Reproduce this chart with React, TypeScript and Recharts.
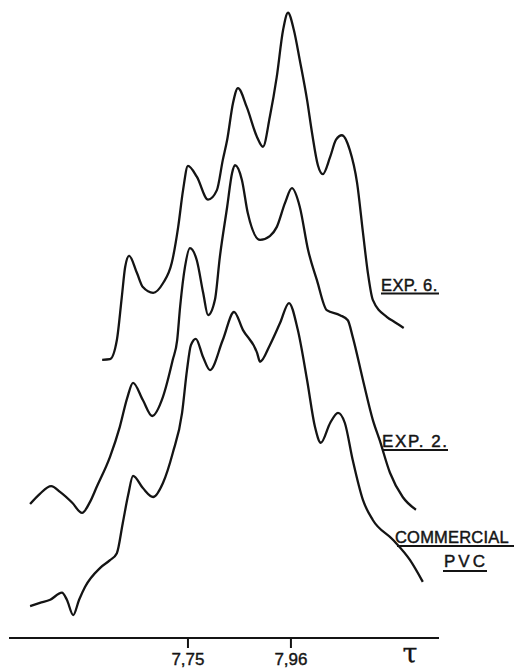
import { Customized, Line, LineChart, XAxis, YAxis } from "recharts"

// chemical shift (tau) and relative intensity for each trace
const exp6Tau = [
  7.575, 7.591, 7.605, 7.615, 7.622, 7.63, 7.646, 7.658, 7.679, 7.699, 7.717, 7.73, 7.74, 7.75, 7.768,
  7.791, 7.809, 7.821, 7.83, 7.842, 7.852, 7.87, 7.891, 7.903, 7.917, 7.931, 7.944, 7.954, 7.966, 7.978,
  7.993, 8.003, 8.015, 8.025, 8.04, 8.052, 8.064, 8.08, 8.095, 8.107, 8.117, 8.127, 8.156, 8.172, 8.19,
]
const exp6Int = [
  43.6, 43.7, 46.7, 53.4, 58.2, 59.9, 57.2, 55.0, 54.1, 55.6, 58.8, 64.4, 70.2, 74.0, 72.3,
  68.7, 70.2, 74.9, 78.1, 83.9, 86.2, 83.2, 78.5, 77.0, 81.7, 87.9, 95.3, 98.0, 95.3, 90.6,
  84.3, 79.2, 74.1, 72.7, 75.4, 78.1, 78.8, 76.5, 71.3, 63.5, 57.2, 53.0, 50.3, 49.5, 48.6,
]

const exp2Tau = [
  7.428, 7.448, 7.471, 7.489, 7.514, 7.534, 7.55, 7.564, 7.591, 7.611, 7.626, 7.638, 7.658, 7.677, 7.699,
  7.719, 7.728, 7.734, 7.744, 7.754, 7.768, 7.781, 7.791, 7.805, 7.815, 7.83, 7.84, 7.846, 7.86, 7.872,
  7.897, 7.917, 7.931, 7.948, 7.962, 7.978, 7.995, 8.013, 8.033, 8.06, 8.076, 8.086, 8.107, 8.127, 8.141,
  8.162, 8.188, 8.215,
]
const exp2Int = [
  21.0, 22.6, 23.8, 22.9, 21.2, 19.6, 21.3, 23.7, 28.4, 33.1, 37.6, 40.0, 37.3, 34.8, 37.8,
  43.6, 46.7, 51.9, 58.2, 61.1, 59.2, 54.1, 50.6, 53.0, 59.7, 67.6, 72.9, 74.1, 71.8, 66.6,
  62.4, 63.0, 64.4, 68.2, 70.5, 67.6, 60.8, 56.1, 51.4, 50.6, 49.8, 47.2, 40.4, 34.2, 31.0,
  25.9, 22.1, 20.1,
]

const pvcTau = [
  7.428, 7.448, 7.469, 7.493, 7.503, 7.516, 7.528, 7.54, 7.571, 7.591, 7.605, 7.617, 7.628, 7.638, 7.658,
  7.679, 7.699, 7.719, 7.738, 7.748, 7.756, 7.766, 7.781, 7.795, 7.821, 7.844, 7.862, 7.891, 7.897, 7.917,
  7.938, 7.956, 7.974, 7.993, 8.009, 8.021, 8.04, 8.056, 8.07, 8.086, 8.107, 8.127, 8.168, 8.203, 8.229,
]
const pvcInt = [
  5.0, 5.5, 6.0, 7.1, 6.0, 3.6, 6.0, 8.0, 11.0, 12.2, 13.3, 18.0, 22.4, 25.4, 23.5,
  22.1, 24.3, 29.0, 35.3, 42.0, 45.9, 46.9, 44.0, 42.0, 46.7, 51.1, 48.3, 44.7, 43.3, 45.9,
  49.4, 52.5, 48.3, 40.4, 33.1, 30.6, 33.7, 35.3, 33.7, 27.9, 21.6, 18.5, 15.4, 12.2, 8.8,
]

const tauTicks = [7.75, 7.96]

const toPoints = (tau: number[], vals: number[]) => tau.map((t, i) => ({ t, v: vals[i] }))

const exp6 = toPoints(exp6Tau, exp6Int)
const exp2 = toPoints(exp2Tau, exp2Int)
const pvc = toPoints(pvcTau, pvcInt)

const ink = "#141414"
const font = "'Liberation Sans', Arial, sans-serif"

// trace names, hand-lettered style with underlines
function Captions() {
  return (
    <g fill={ink} stroke={ink} strokeWidth={0.45} fontFamily={font}>
      <text x={381} y={291} fontSize={16.5} letterSpacing={0.4}>EXP. 6.</text>
      <line x1={381} y1={293.5} x2={439} y2={293.5} strokeWidth={2} />

      <text x={382} y={447} fontSize={17} letterSpacing={1.6}>EXP. 2.</text>
      <line x1={383} y1={450} x2={448} y2={450} strokeWidth={2} />

      <text x={395} y={543} fontSize={16.5} letterSpacing={0.2}>COMMERCIAL</text>
      <line x1={397} y1={546} x2={514} y2={546} strokeWidth={2} />
      <text x={444} y={567} fontSize={17} letterSpacing={3}>PVC</text>
      <line x1={443} y1={571} x2={487} y2={571} strokeWidth={2} />

      <text x={410} y={663} fontSize={27} strokeWidth={0.3} textAnchor="middle" fontFamily="'DejaVu Serif', serif">τ</text>
    </g>
  )
}

export default function App() {
  return (
    <div style={{ position: "absolute", left: 0, top: 0, width: 514, height: 670, background: "#fff" }}>
      <LineChart width={514} height={670} margin={{ top: 0, right: 75, bottom: 0, left: 9 }}>
        <XAxis
          type="number"
          dataKey="t"
          domain={[7.385, 8.262]}
          allowDataOverflow
          ticks={tauTicks}
          tickFormatter={(t: number) => t.toFixed(2).replace(".", ",")}
          height={32}
          tickSize={10}
          tickMargin={5}
          axisLine={{ stroke: ink, strokeWidth: 2 }}
          tickLine={{ stroke: ink, strokeWidth: 2 }}
          tick={{ fill: ink, stroke: ink, strokeWidth: 0.4, fontSize: 17, fontFamily: font }}
        />
        <YAxis hide type="number" domain={[0, 100]} />
        <Line data={exp6} dataKey="v" type="monotone" stroke={ink} strokeWidth={2.3} dot={false} isAnimationActive={false} />
        <Line data={exp2} dataKey="v" type="monotone" stroke={ink} strokeWidth={2.3} dot={false} isAnimationActive={false} />
        <Line data={pvc} dataKey="v" type="monotone" stroke={ink} strokeWidth={2.3} dot={false} isAnimationActive={false} />
        <Customized component={Captions} />
      </LineChart>
    </div>
  )
}
